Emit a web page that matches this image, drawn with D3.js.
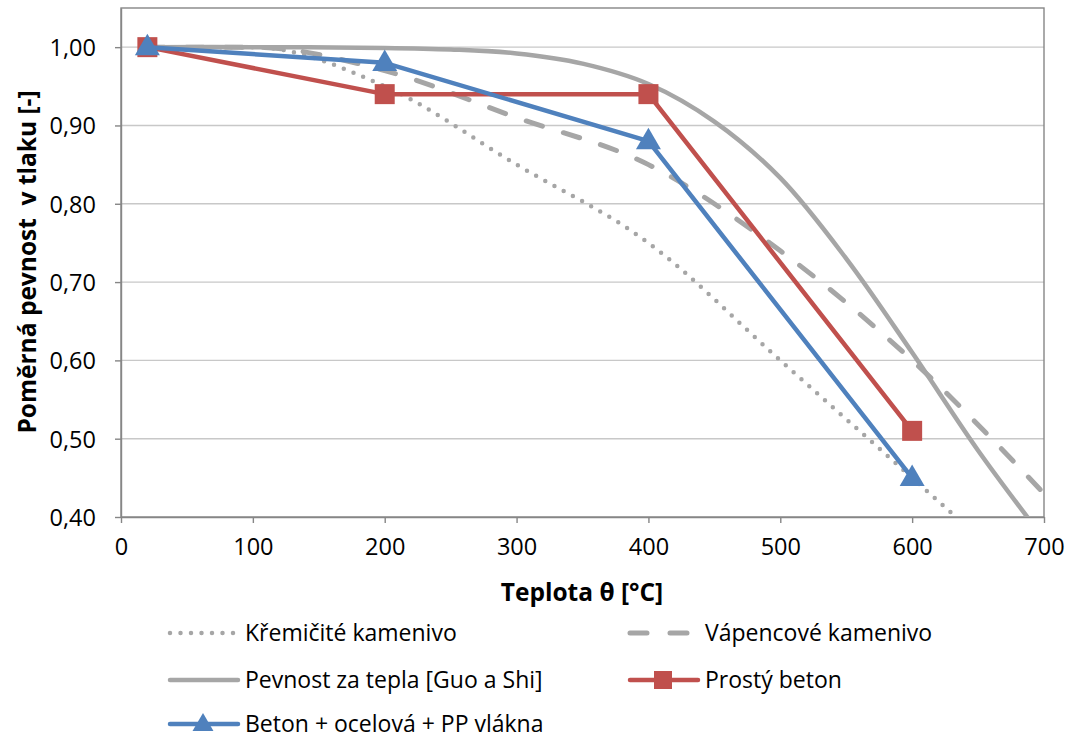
<!DOCTYPE html>
<html>
<head>
<meta charset="utf-8">
<script src="https://cdn.jsdelivr.net/npm/d3@7"></script>
<style>
  html, body { margin: 0; padding: 0; background: #fff; }
  svg { display: block; font-family: "Open Sans", Lato, sans-serif; }
</style>
</head>
<body>
<svg id="chart" width="1073" height="738"></svg>
<script>
// Temperature (°C) and relative compressive strength series
const siliceousT   = [20, 100, 200, 300, 400, 500, 600, 700];
const siliceousV   = [1.00, 1.00, 0.95, 0.85, 0.75, 0.60, 0.45, 0.30];

const calcareousT  = [20, 100, 200, 300, 400, 500, 600, 700];
const calcareousV  = [1.00, 1.00, 0.97, 0.91, 0.85, 0.74, 0.60, 0.43];

const guoShiT      = [20, 100, 200, 250, 300, 350, 400, 450, 500, 550, 600, 650, 700];
const guoShiV      = [1.00, 1.00, 0.999, 0.997, 0.992, 0.979, 0.953, 0.905, 0.833, 0.730, 0.610, 0.485, 0.372];

const plainT       = [20, 200, 400, 600];
const plainV       = [1.00, 0.94, 0.94, 0.51];

const fibreT       = [20, 200, 400, 600];
const fibreV       = [1.00, 0.98, 0.88, 0.45];

const xTicks = [0, 100, 200, 300, 400, 500, 600, 700];
const yTicks = [0.40, 0.50, 0.60, 0.70, 0.80, 0.90, 1.00];

const seriesNames = [
  "Křemičité kamenivo",
  "Vápencové kamenivo",
  "Pevnost za tepla [Guo a Shi]",
  "Prostý beton",
  "Beton + ocelová + PP vlákna"
];

const gray = "#A6A6A6", red = "#C0504D", blue = "#4F81BD", axisCol = "#868686", gridCol = "#C8C8C8";

const svg = d3.select("#chart");
const plot = { left: 121, right: 1044, top: 8, bottom: 517 };

const x = d3.scaleLinear().domain([0, 700]).range([plot.left, plot.right]);
const y = d3.scaleLinear().domain([0.40, 1.05]).range([plot.bottom, plot.top]);

const fmt = v => d3.format(".2f")(v).replace(".", ",");

// horizontal gridlines
svg.append("g").selectAll("line").data(yTicks.filter(v => v > 0.4)).join("line")
  .attr("x1", plot.left).attr("x2", plot.right)
  .attr("y1", d => y(d)).attr("y2", d => y(d))
  .attr("stroke", gridCol).attr("stroke-width", 1.4);

// plot frame
svg.append("rect")
  .attr("x", plot.left).attr("y", plot.top)
  .attr("width", plot.right - plot.left).attr("height", plot.bottom - plot.top)
  .attr("fill", "none").attr("stroke", axisCol).attr("stroke-width", 1.4);

// axes
const yAxis = svg.append("g").attr("transform", `translate(${plot.left},0)`)
  .call(d3.axisLeft(y).tickValues(yTicks).tickFormat(fmt).tickSize(6).tickSizeOuter(0));
const xAxis = svg.append("g").attr("transform", `translate(0,${plot.bottom})`)
  .call(d3.axisBottom(x).tickValues(xTicks).tickSize(6).tickSizeOuter(0));

[yAxis, xAxis].forEach(a => {
  a.select(".domain").attr("stroke", axisCol).attr("stroke-width", 1.4);
  a.selectAll(".tick line").attr("stroke", axisCol).attr("stroke-width", 1.4);
  a.selectAll(".tick text").attr("fill", "#000").attr("font-size", 23.5)
    .attr("font-family", "'Open Sans', sans-serif");
});
yAxis.selectAll(".tick text").attr("x", -25).attr("dy", "0.36em");
xAxis.selectAll(".tick text").attr("y", 21).attr("dy", "0.71em");

// axis titles
svg.append("text")
  .attr("x", 582).attr("y", 601)
  .attr("text-anchor", "middle").attr("font-weight", "bold").attr("font-size", 24.5)
  .text("Teplota θ [°C]");
svg.append("text")
  .attr("transform", "translate(36,262) rotate(-90)")
  .attr("text-anchor", "middle").attr("font-weight", "bold").attr("font-size", 24.5)
  .attr("xml:space", "preserve").style("white-space", "pre")
  .text("Poměrná pevnost  v tlaku [-]");

// clip lines to the plot area
svg.append("clipPath").attr("id", "plotClip").append("rect")
  .attr("x", plot.left).attr("y", plot.top)
  .attr("width", plot.right - plot.left).attr("height", plot.bottom - plot.top);

const zip = (ts, vs) => ts.map((t, i) => [t, vs[i]]);
const smooth = d3.line().x(d => x(d[0])).y(d => y(d[1])).curve(d3.curveMonotoneX);
const smoothCR = d3.line().x(d => x(d[0])).y(d => y(d[1])).curve(d3.curveCatmullRom.alpha(0.5));
const straight = d3.line().x(d => x(d[0])).y(d => y(d[1]));

const lines = svg.append("g").attr("clip-path", "url(#plotClip)");

const dotted = { stroke: gray, width: 4.5, dash: "0,10.5", cap: "round" };
const dashed = { stroke: gray, width: 5, dash: "17,22", cap: "round" };
const solidGray = { stroke: gray, width: 4.5, dash: null, cap: "butt" };

function drawLine(g, gen, data, st) {
  g.append("path").attr("d", gen(data)).attr("fill", "none")
    .attr("stroke", st.stroke).attr("stroke-width", st.width)
    .attr("stroke-dasharray", st.dash).attr("stroke-linecap", st.cap)
    .attr("stroke-linejoin", "round");
}

drawLine(lines, smooth, zip(siliceousT, siliceousV), dotted);
drawLine(lines, smooth, zip(calcareousT, calcareousV), dashed);
drawLine(lines, smoothCR, zip(guoShiT, guoShiV), solidGray);
drawLine(lines, straight, zip(plainT, plainV), { stroke: red, width: 4.5, dash: null, cap: "butt" });

const marks = svg.append("g");
marks.selectAll("rect").data(zip(plainT, plainV)).join("rect")
  .attr("x", d => x(d[0]) - 10).attr("y", d => y(d[1]) - 10)
  .attr("width", 20).attr("height", 20).attr("fill", red);

drawLine(svg, straight, zip(fibreT, fibreV), { stroke: blue, width: 4.5, dash: null, cap: "butt" });

const tri = d3.symbol().type(d3.symbolTriangle).size(270);
svg.append("g").selectAll("path").data(zip(fibreT, fibreV)).join("path")
  .attr("transform", d => `translate(${x(d[0])},${y(d[1]) + 1})`)
  .attr("d", tri).attr("fill", blue);

// legend
const legendItems = [
  { name: seriesNames[0], col: 0, row: 0, st: dotted, dash: "0,10.5", marker: null },
  { name: seriesNames[1], col: 1, row: 0, st: dashed, dash: "17,23", marker: null },
  { name: seriesNames[2], col: 0, row: 1, st: solidGray, dash: null, marker: null },
  { name: seriesNames[3], col: 1, row: 1, st: { stroke: red, width: 4.5 }, dash: null, marker: "square" },
  { name: seriesNames[4], col: 0, row: 2, st: { stroke: blue, width: 4.5 }, dash: null, marker: "triangle" }
];
const colX = [168, 628];
const rowY = [633, 680, 724];
const legend = svg.append("g");
legendItems.forEach(it => {
  const g = legend.append("g").attr("transform", `translate(${colX[it.col]},${rowY[it.row]})`);
  const w = 70;
  g.append("line").attr("x1", 2).attr("x2", w).attr("y1", 0).attr("y2", 0)
    .attr("stroke", it.st.stroke).attr("stroke-width", it.st.width)
    .attr("stroke-dasharray", it.dash)
    .attr("stroke-linecap", "round");
  if (it.marker === "square") {
    g.append("rect").attr("x", w / 2 - 9).attr("y", -9).attr("width", 18).attr("height", 18).attr("fill", red);
  } else if (it.marker === "triangle") {
    g.append("path").attr("transform", `translate(${w / 2},1)`)
      .attr("d", d3.symbol().type(d3.symbolTriangle).size(190)).attr("fill", blue);
  }
  g.append("text").attr("x", w + 7).attr("y", 0).attr("dy", "0.35em")
    .attr("font-size", 23).attr("fill", "#000").text(it.name);
});
</script>
</body>
</html>
